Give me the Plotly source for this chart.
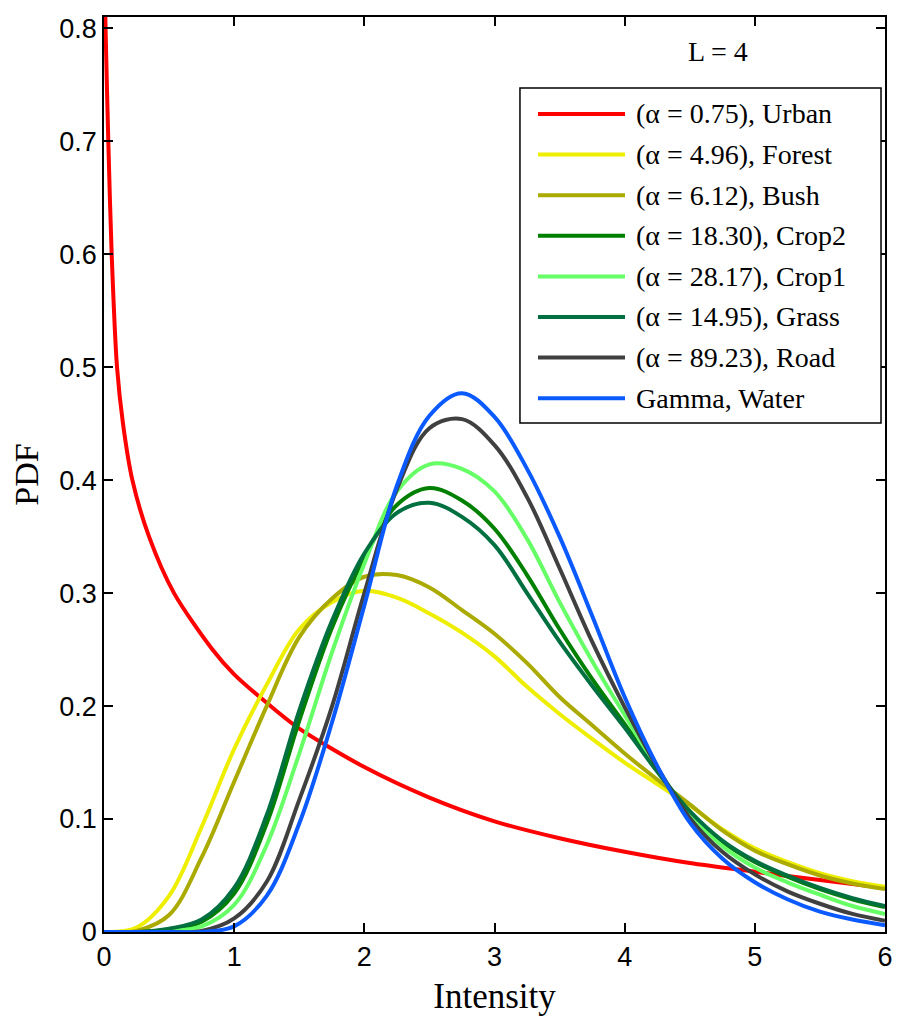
import plotly.graph_objects as go

# intensity grid used for the bell shaped curves
intensity = [0, 0.25, 0.5, 0.75, 1.0, 1.25, 1.5, 1.75, 2.0, 2.25, 2.5, 2.75, 3.0,
             3.25, 3.5, 3.75, 4.0, 4.25, 4.5, 4.75, 5.0, 5.25, 5.5, 5.75, 6.0]

# urban curve needs its own points because of the spike at zero
urban_x = [0.004, 0.012, 0.033, 0.059, 0.10, 0.146, 0.218, 0.346, 0.538, 0.833, 1.0,
           1.3, 1.5, 2.0, 2.5, 3.0, 3.5, 4.0, 4.5, 5.0, 5.5, 6.0]
urban = [0.85, 0.80, 0.70, 0.60, 0.50, 0.45, 0.40, 0.35, 0.30, 0.25, 0.228,
         0.198, 0.180, 0.146, 0.119, 0.098, 0.083, 0.071, 0.061, 0.0534, 0.046, 0.039]

forest = [0, 0.004, 0.032, 0.093, 0.162, 0.219, 0.268, 0.292, 0.302, 0.296, 0.282, 0.265, 0.244,
          0.217, 0.193, 0.171, 0.150, 0.131, 0.112, 0.091, 0.074, 0.062, 0.052, 0.045, 0.040]
bush = [0, 0.001, 0.015, 0.066, 0.133, 0.200, 0.261, 0.295, 0.3145, 0.316, 0.305, 0.285, 0.264,
        0.238, 0.208, 0.183, 0.158, 0.135, 0.113, 0.090, 0.072, 0.060, 0.050, 0.043, 0.038]
crop2 = [0, 0, 0.002, 0.009, 0.034, 0.096, 0.187, 0.269, 0.331, 0.378, 0.393, 0.382, 0.357,
         0.316, 0.268, 0.224, 0.184, 0.143, 0.106, 0.080, 0.062, 0.049, 0.038, 0.029, 0.022]
crop1 = [0, 0, 0.001, 0.005, 0.024, 0.077, 0.158, 0.247, 0.326, 0.390, 0.414, 0.410, 0.390,
         0.348, 0.292, 0.240, 0.192, 0.145, 0.104, 0.076, 0.057, 0.044, 0.033, 0.023, 0.016]
grass = [0, 0, 0.003, 0.011, 0.039, 0.1035, 0.196, 0.275, 0.335, 0.371, 0.380, 0.3675, 0.3425,
         0.300, 0.257, 0.218, 0.181, 0.142, 0.107, 0.081, 0.063, 0.050, 0.039, 0.030, 0.023]
road = [0, 0, 0, 0.001, 0.012, 0.0445, 0.117, 0.199, 0.300, 0.392, 0.446, 0.454, 0.431,
        0.385, 0.322, 0.257, 0.199, 0.146, 0.101, 0.071, 0.051, 0.036, 0.025, 0.016, 0.010]
water = [0, 0, 0, 0, 0.005, 0.032, 0.096, 0.185, 0.289, 0.395, 0.457, 0.477, 0.456,
         0.410, 0.350, 0.280, 0.208, 0.147, 0.097, 0.065, 0.044, 0.029, 0.018, 0.011, 0.006]

names = ["(α = 0.75), Urban", "(α = 4.96), Forest", "(α = 6.12), Bush",
         "(α = 18.30), Crop2", "(α = 28.17), Crop1", "(α = 14.95), Grass",
         "(α = 89.23), Road", "Gamma, Water"]
colors = ["#ff0000", "#eeee00", "#aaaa00", "#008000", "#66ff66", "#007040",
          "#404040", "#0a5aff"]

x_ticks = [0, 1, 2, 3, 4, 5, 6]
y_ticks = [0, 0.1, 0.2, 0.3, 0.4, 0.5, 0.6, 0.7, 0.8]
y_labels = ["0", "0.1", "0.2", "0.3", "0.4", "0.5", "0.6", "0.7", "0.8"]

serif = "Liberation Serif, Times New Roman, serif"
sans = "Liberation Sans, Arial, sans-serif"

fig = go.Figure()
fig.add_trace(go.Scatter(x=urban_x, y=urban, mode="lines", name=names[0],
                         line=dict(color=colors[0], width=4, shape="spline", smoothing=0.8)))
for name, color, pdf in zip(names[1:], colors[1:], [forest, bush, crop2, crop1, grass, road, water]):
    fig.add_trace(go.Scatter(x=intensity, y=pdf, mode="lines", name=name,
                             line=dict(color=color, width=4, shape="spline", smoothing=1.0)))

# matlab style legend box, drawn by hand so the line samples are long
shapes = [dict(type="rect", xref="paper", yref="paper", x0=0.5326, x1=0.9949, y0=0.5563, y1=0.9224,
               line=dict(color="black", width=1.5), fillcolor="white", layer="above")]
annotations = []
for i, (name, color) in enumerate(zip(names, colors)):
    ry = 0.8940 - i * 0.04437
    shapes.append(dict(type="line", xref="paper", yref="paper", x0=0.5557, x1=0.6671, y0=ry, y1=ry,
                       line=dict(color=color, width=4), layer="above"))
    annotations.append(dict(xref="paper", yref="paper", x=0.6786, y=ry, text=name, showarrow=False,
                            xanchor="left", yanchor="middle", font=dict(family=serif, size=28, color="black")))
annotations.append(dict(xref="paper", yref="paper", x=0.786, y=0.962, text="L = 4", showarrow=False,
                        xanchor="center", yanchor="middle", font=dict(family=serif, size=28, color="black")))

# the page body adds an 8px offset, margins are shifted to compensate
fig.update_layout(
    width=903, height=1024,
    margin=dict(l=96, r=26, t=9, b=100),
    plot_bgcolor="white", paper_bgcolor="white",
    showlegend=False,
    shapes=shapes, annotations=annotations,
    xaxis=dict(range=[0, 6], tickvals=x_ticks, ticks="inside", ticklen=9, tickwidth=1.5,
               tickcolor="black", showline=True, linecolor="black", linewidth=1.5, mirror="ticks",
               showgrid=False, zeroline=False, automargin=False,
               tickfont=dict(family=sans, size=27, color="black"),
               title=dict(text="Intensity", font=dict(family=serif, size=35, color="black"), standoff=12)),
    yaxis=dict(range=[0, 0.81], tickvals=y_ticks, ticktext=y_labels, ticks="inside", ticklen=9,
               tickwidth=1.5, tickcolor="black", showline=True, linecolor="black", linewidth=1.5,
               mirror="ticks", showgrid=False, zeroline=False, automargin=False,
               tickfont=dict(family=sans, size=27, color="black"),
               title=dict(text="PDF", font=dict(family=serif, size=34, color="black"), standoff=14)),
)

fig.write_html("out.html")
